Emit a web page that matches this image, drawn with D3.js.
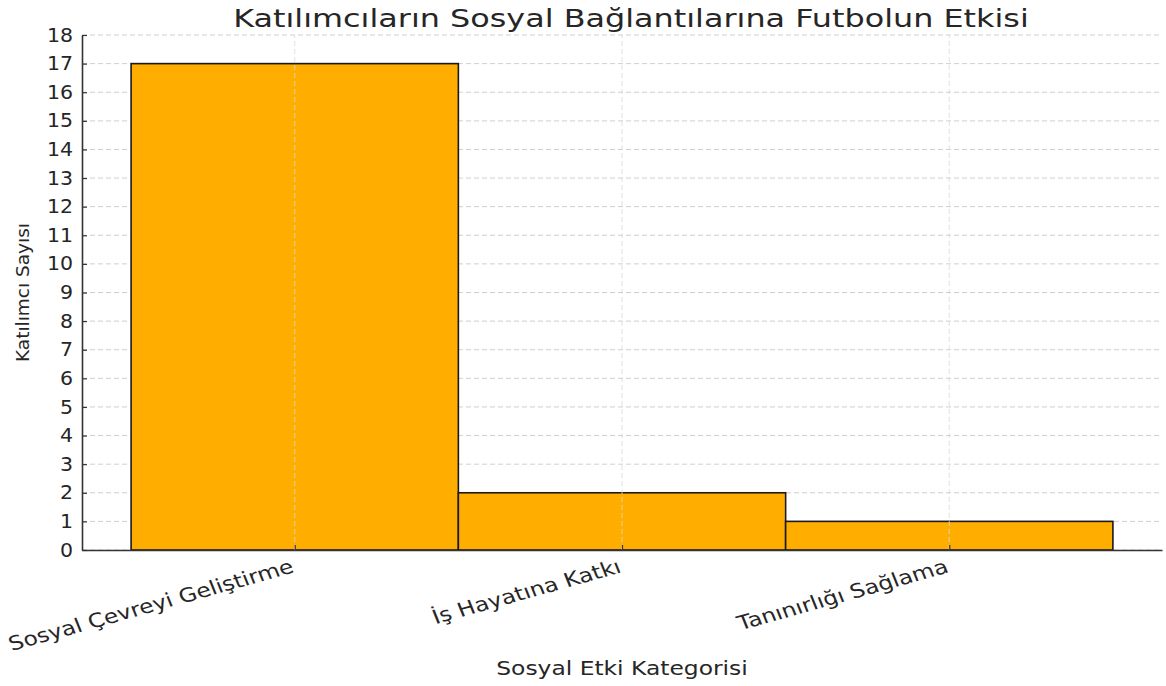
<!DOCTYPE html>
<html>
<head>
<meta charset="utf-8">
<script src="https://cdn.jsdelivr.net/npm/d3@7"></script>
<style>
  html, body { margin: 0; padding: 0; background: #fff; }
  svg { display: block; }
  text { font-family: "DejaVu Sans", sans-serif; fill: #262626; }
</style>
</head>
<body>
<svg id="chart" width="1166" height="686"></svg>
<script>
// Participant counts per social-impact category
const categories = ["Sosyal Çevreyi Geliştirme", "İş Hayatına Katkı", "Tanınırlığı Sağlama"];
const counts = [17, 2, 1];
const yTicks = d3.range(0, 19);
const title = "Katılımcıların Sosyal Bağlantılarına Futbolun Etkisi";
const xTitle = "Sosyal Etki Kategorisi";
const yTitle = "Katılımcı Sayısı";

const W = 1166, H = 686;
const m = { left: 82, right: 4, top: 35, bottom: 136 };
const svg = d3.select("#chart");

// Linear category axis: bars centred on 0,1,2 with unit width, 5% padding
const x = d3.scaleLinear().domain([-0.65, 2.65]).range([m.left, W - m.right]);
const y = d3.scaleLinear().domain([0, 18]).range([H - m.bottom, m.top]);

const plot = svg.append("g");

// horizontal grid (behind bars)
plot.append("g").selectAll("line").data(yTicks).join("line")
  .attr("x1", x.range()[0]).attr("x2", x.range()[1])
  .attr("y1", d => y(d)).attr("y2", d => y(d))
  .attr("stroke", "#cfcfcf").attr("stroke-width", 1).attr("stroke-dasharray", "5,3");

// bars
plot.append("g").selectAll("rect").data(counts).join("rect")
  .attr("x", (d, i) => x(i - 0.5))
  .attr("width", (d, i) => x(i + 0.5) - x(i - 0.5))
  .attr("y", d => y(d))
  .attr("height", d => y(0) - y(d))
  .attr("fill", "#FFAE00")
  .attr("stroke", "#1a1a1a").attr("stroke-width", 1.6);

// vertical grid at category centres
plot.append("g").selectAll("line").data(d3.range(categories.length)).join("line")
  .attr("x1", d => x(d)).attr("x2", d => x(d))
  .attr("y1", y(0)).attr("y2", y(18))
  .attr("stroke", "#d8d8d8").attr("stroke-opacity", 0.8).attr("stroke-width", 1).attr("stroke-dasharray", "5,3");

// y axis (ticks pointing inward)
const yAxis = svg.append("g").attr("transform", `translate(${m.left},0)`)
  .call(d3.axisLeft(y).tickValues(yTicks).tickFormat(d3.format("d")).tickSizeInner(-5).tickSizeOuter(0).tickPadding(9));
yAxis.select(".domain").attr("stroke", "#333").attr("stroke-width", 1.6);
yAxis.selectAll(".tick line").attr("stroke", "#333").attr("stroke-width", 1.2);
yAxis.selectAll(".tick text").attr("font-size", 19).attr("fill", "#262626")
  .attr("font-family", "DejaVu Sans")
  .attr("x", -9 / 1.08).attr("transform", "scale(1.08,1)");

// x axis
const xAxis = svg.append("g").attr("transform", `translate(0,${y(0)})`)
  .call(d3.axisBottom(x).tickValues(d3.range(categories.length)).tickFormat(i => categories[i]).tickSizeInner(-5).tickSizeOuter(0).tickPadding(0));
xAxis.select(".domain").attr("stroke", "#333").attr("stroke-width", 1.6);
xAxis.selectAll(".tick line").attr("stroke", "#333").attr("stroke-width", 1.2);
xAxis.selectAll(".tick text")
  .attr("font-size", 19.5).attr("font-family", "DejaVu Sans").attr("fill", "#262626")
  .attr("text-anchor", "end").attr("dy", null).attr("y", 0)
  .attr("transform", "translate(0,22) scale(1.2,1) rotate(-18.5)");

// titles
svg.append("text").attr("transform", "translate(631,27) scale(1.3,1)").attr("text-anchor", "middle")
  .attr("font-size", 24.5).text(title);
svg.append("text").attr("transform", "translate(622,675) scale(1.2,1)").attr("text-anchor", "middle")
  .attr("font-size", 19.5).text(xTitle);
svg.append("text").attr("transform", `translate(29,${(y(0) + y(18)) / 2}) rotate(-90)`)
  .attr("text-anchor", "middle").attr("font-size", 18.5).text(yTitle);
</script>
</body>
</html>
